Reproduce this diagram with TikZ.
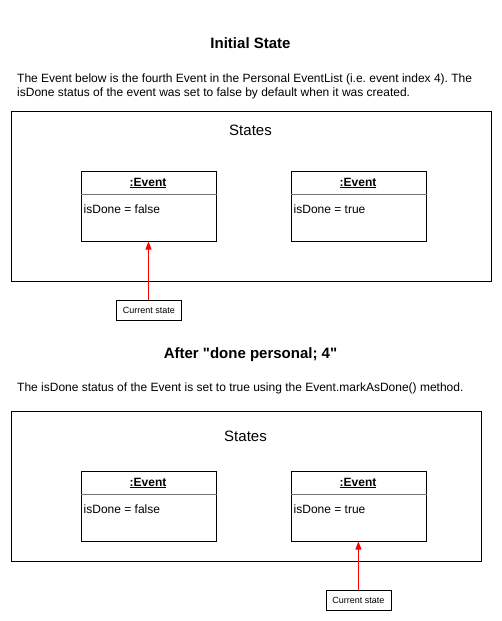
\documentclass[tikz,border=0pt]{standalone}
\usepackage{fontspec}
\setmainfont{Liberation Sans}[Ligatures=TeXOff]
\usetikzlibrary{arrows.meta}
\frenchspacing
\begin{document}
\begin{tikzpicture}[x=1pt,y=-1pt,
  frame/.style={draw=black,line width=1pt},
  evbox/.style={draw=black,line width=1pt,minimum width=135pt,minimum height=70pt,anchor=north west,inner sep=0pt},
  divider/.style={draw=black!55,line width=1.2pt},
  evhead/.style={font=\fontsize{12}{14}\selectfont\bfseries,anchor=base,inner sep=0pt},
  evattr/.style={font=\fontsize{12}{14}\selectfont,anchor=base west,inner sep=0pt},
  titletext/.style={font=\fontsize{15}{18}\selectfont\bfseries,anchor=base,inner sep=0pt},
  bodytext/.style={font=\fontsize{12}{14.5}\selectfont,anchor=base west,inner sep=0pt,align=left},
  statestext/.style={font=\fontsize{15}{18}\selectfont,anchor=base,inner sep=0pt},
  curbox/.style={draw=black,line width=0.8pt,minimum width=65pt,minimum height=20pt,anchor=north west,inner sep=0pt,font=\fontsize{9}{11}\selectfont},
  redarrow/.style={draw=red,line width=1pt,-{Triangle[length=8pt,width=6pt]}}
]
\useasboundingbox (0,0) rectangle (501,621);

% ---------- Initial State ----------
\node[titletext] (t1) at (250.5,48) {Initial State};
\node[bodytext] (b1a) at (17,82) {The Event below is the fourth Event in the Personal EventList (i.e. event index 4). The};
\node[bodytext] (b1b) at (17,96.5) {isDone status of the event was set to false by default when it was created.};

\node[frame,minimum width=480pt,minimum height=170pt,anchor=north west,inner sep=0pt] (outerA) at (10.5,110.5) {};
\node[statestext] (sA) at (250.5,135) {States};

\node[evbox] (evA1) at (80.5,170.5) {};
\draw[divider] ([yshift=-24pt]evA1.north west) -- ([yshift=-24pt]evA1.north east);
\node[evhead] (hA1) at (148,186) {\underline{:Event}};
\node[evattr] (aA1) at (83.5,213.5) {isDone = false};

\node[evbox] (evA2) at (290.5,170.5) {};
\draw[divider] ([yshift=-24pt]evA2.north west) -- ([yshift=-24pt]evA2.north east);
\node[evhead] (hA2) at (358,186) {\underline{:Event}};
\node[evattr] (aA2) at (293.5,213.5) {isDone = true};

\node[curbox] (curA) at (116,300) {Current state};
\draw[redarrow] (curA.north -| evA1.south) -- (evA1.south);

% ---------- After ----------
\node[titletext] (t2) at (250.5,358) {After "done personal; 4"};
\node[bodytext] (b2) at (17,391) {The isDone status of the Event is set to true using the Event.markAsDone() method.};

\node[frame,minimum width=470pt,minimum height=150pt,anchor=north west,inner sep=0pt] (outerB) at (10.5,410.5) {};
\node[statestext] (sB) at (245.5,441) {States};

\node[evbox] (evB1) at (80.5,470.5) {};
\draw[divider] ([yshift=-24pt]evB1.north west) -- ([yshift=-24pt]evB1.north east);
\node[evhead] (hB1) at (148,486) {\underline{:Event}};
\node[evattr] (aB1) at (83.5,513.5) {isDone = false};

\node[evbox] (evB2) at (290.5,470.5) {};
\draw[divider] ([yshift=-24pt]evB2.north west) -- ([yshift=-24pt]evB2.north east);
\node[evhead] (hB2) at (358,486) {\underline{:Event}};
\node[evattr] (aB2) at (293.5,513.5) {isDone = true};

\node[curbox] (curB) at (325.5,590) {Current state};
\draw[redarrow] (curB.north) -- (curB.north |- evB2.south);
\end{tikzpicture}
\end{document}
